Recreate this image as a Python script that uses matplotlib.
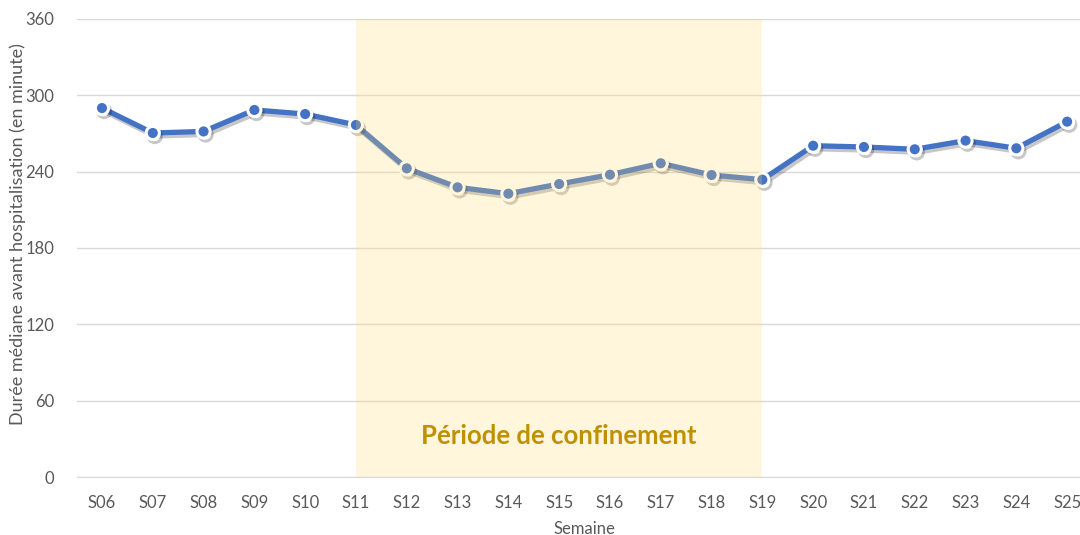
import matplotlib
matplotlib.use('Agg')
import matplotlib.pyplot as plt
import matplotlib.patheffects as PathEffects
import numpy as np

plt.rcParams['font.family'] = ['Lato', 'DejaVu Sans']

# Data
weeks = ['S06', 'S07', 'S08', 'S09', 'S10', 'S11', 'S12', 'S13', 'S14', 'S15',
         'S16', 'S17', 'S18', 'S19', 'S20', 'S21', 'S22', 'S23', 'S24', 'S25']
median_minutes = [290.0, 270.4, 271.6, 288.5, 285.3, 276.7, 242.6, 227.7, 222.7, 230.3,
                  237.6, 246.6, 237.4, 233.7, 260.4, 259.4, 257.6, 264.4, 258.4, 279.3]
lockdown_start = 'S11'
lockdown_end = 'S19'
y_ticks = [0, 60, 120, 180, 240, 300, 360]

fig = plt.figure(figsize=(10.8, 5.35), dpi=100)
ax = fig.add_axes([0.0709, 0.1084, 0.9407, 0.8561])

x = np.arange(len(weeks))
line, = ax.plot(x, median_minutes, color='#4472C4', lw=3.8, marker='o', ms=9.5,
                markerfacecolor='#4472C4', markeredgecolor='white', markeredgewidth=2.2,
                zorder=3, solid_joinstyle='round', clip_on=False)
line.set_path_effects([PathEffects.SimpleLineShadow(offset=(1.5, -2.2), shadow_color='black',
                                                    alpha=0.22),
                       PathEffects.Normal()])

# lockdown shading drawn over the line, semi transparent
i0, i1 = weeks.index(lockdown_start), weeks.index(lockdown_end)
ax.axvspan(i0, i1, ymin=0, ymax=1, color='#FFDB70', alpha=0.24, lw=0, zorder=4)
ax.text((i0 + i1) / 2, 32, 'Période de confinement', ha='center', va='center',
        fontsize=18.5, fontweight='bold', color='#BF9000', zorder=5)

ax.set_xlim(-0.5, len(weeks) - 0.5)
ax.set_ylim(0, 360)
ax.set_yticks(y_ticks)
ax.set_xticks(x)
ax.set_xticklabels(weeks)
ax.grid(axis='y', color='#D9D9D9', lw=1, zorder=0)
ax.set_axisbelow(True)
for s in ['top', 'right', 'left']:
    ax.spines[s].set_visible(False)
ax.spines['bottom'].set_color('#D9D9D9')
ax.tick_params(length=0, labelsize=12, labelcolor='#595959', pad=13)
ax.tick_params(axis='y', pad=16)

ax.set_xlabel('Semaine', fontsize=12, color='#595959', labelpad=7)
# y label placed by hand so it stays inside the figure
fig.text(18 / 1080, 1 - 234 / 535, 'Durée médiane avant hospitalisation (en minute)',
         rotation=90, ha='center', va='center', fontsize=13, color='#595959')

fig.savefig('out.png', dpi=100)
